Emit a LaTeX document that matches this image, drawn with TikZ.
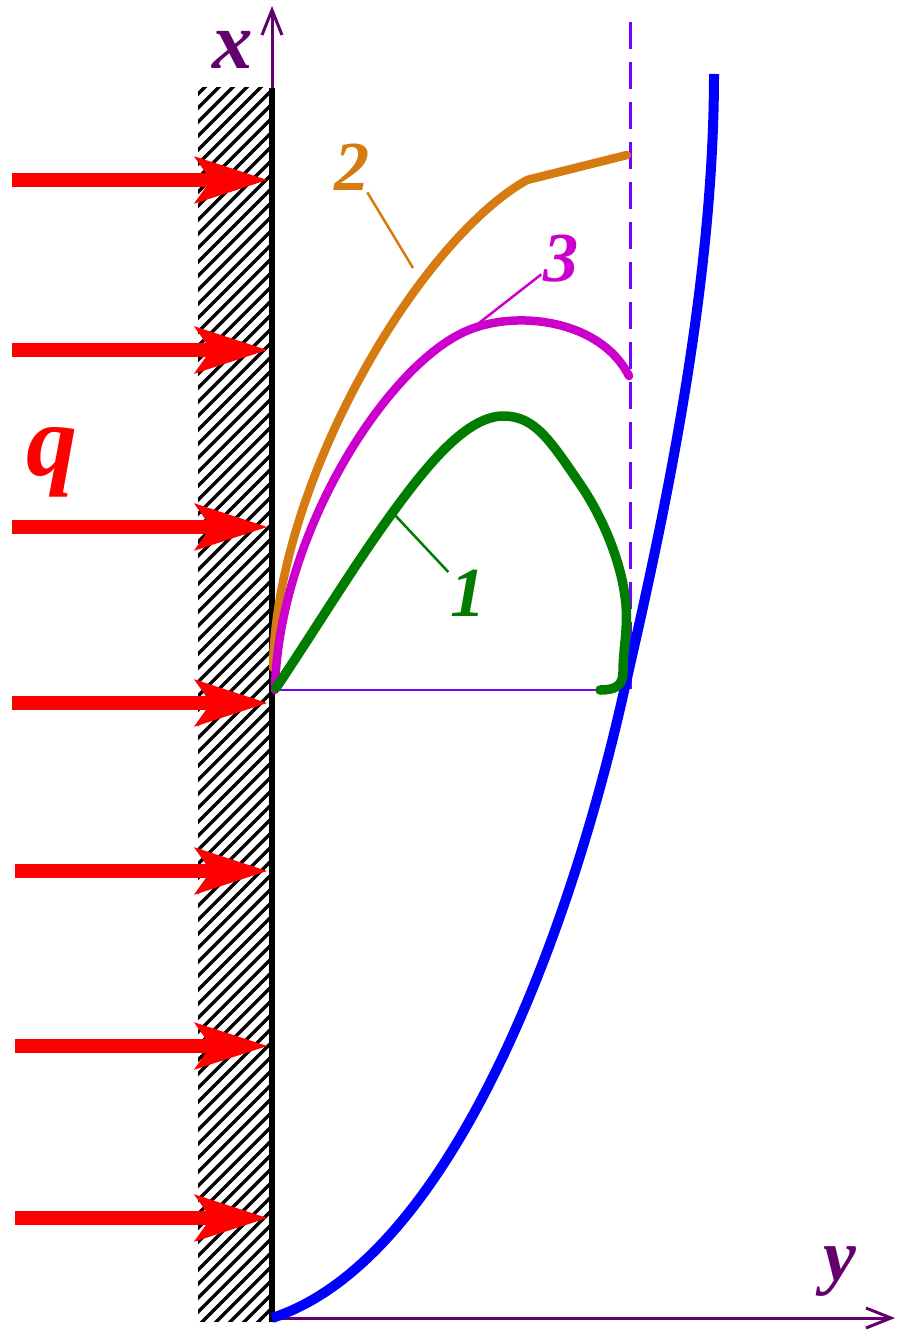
\documentclass[tikz,border=0pt]{standalone}
\usepackage{fontspec}
\setmainfont{Liberation Serif}
\usetikzlibrary{arrows.meta}

\definecolor{qred}{RGB}{255,0,0}
\definecolor{tblue}{RGB}{0,0,255}
\definecolor{curveone}{RGB}{0,125,0}
\definecolor{curvetwo}{RGB}{214,122,18}
\definecolor{curvethree}{RGB}{204,0,204}
\definecolor{axpurple}{RGB}{100,0,110}
\definecolor{guideviolet}{RGB}{120,0,255}

\tikzset{
  qarrow/.style={draw=qred, line width=0.28cm,
    -{Stealth[length=1.44cm,width=0.9cm,inset=0.3cm]}},
  axis/.style={draw=axpurple, line width=0.06cm,
    -{Straight Barb[length=0.5cm,width=0.4cm,line width=0.06cm]}},
  profile/.style={line width=0.17cm, line join=round, line cap=round},
  leader/.style={line width=0.05cm},
  axlab/.style={text=axpurple, inner sep=1pt,
    font=\fontsize{46}{46}\selectfont\bfseries\itshape},
  numlab/.style={inner sep=1pt,
    font=\fontsize{40}{40}\selectfont\bfseries\itshape},
}

\begin{document}
\begin{tikzpicture}[x=0.02cm, y=-0.02cm]

    \useasboundingbox (0,0) rectangle (897,1331);

    % Wall with hatching
    \begin{scope}
        \clip (198,88) rectangle (270,1321);
        \foreach \k in {88,102,...,1430}
            \draw[line width=0.068cm] (190,\k) -- ++(90,-90);
    \end{scope}
    \draw[line width=0.12cm] (272,88) -- (272,1322);

    % Axes
    \coordinate (O) at (272,1318);
    \draw[axis] (272,88) -- (272,6) coordinate (xend);
    \draw[axis] (O) -- (895,1318) coordinate (yend);
    \node[axlab] (xlab) at (233,50) {x};
    \node[axlab, font=\fontsize{42}{42}\selectfont\bfseries\itshape] (ylab) at (840,1272) {y};

    % Heat flux
    \foreach \s/\h in {12/180, 12/350, 12/527, 12/703, 15/871, 15/1046, 15/1218}
        \draw[qarrow] (\s,\h) -- (268,\h);
    \node[text=qred, inner sep=0pt, font=\fontsize{58}{58}\selectfont\bfseries\itshape] (q) at (52,462) {q};

    % Guide lines
    \draw[guideviolet, line width=0.06cm, dash pattern=on 0.54cm off 0.26cm] (630,22) -- (630,690);
    \draw[guideviolet, line width=0.05cm] (273,690) -- (622,690);

    % Temperature curve
    \draw[tblue, line width=0.2cm] (O)
        .. controls (445,1262) and (565,950) .. (622,700)
        .. controls (657,547) and (714,300) .. (714,74);

    % Profile 2
    \draw[curvetwo, profile] (273,668)
        .. controls (276,480) and (420,240) .. (527,180) -- (627,155);

    % Profile 3
    \draw[curvethree, profile] (275,690)
        .. controls (278,540) and (380,375) .. (460,334)
        .. controls (510,308) and (600,318) .. (629,376);

    % Profile 1
    \draw[curveone, profile, line width=0.19cm] (276,688)
        .. controls (320,622) and (353,567) .. (393,512)
        .. controls (433,457) and (470,415) .. (505,416)
        .. controls (535,417) and (550,440) .. (580,484)
        .. controls (600,513) and (622,560) .. (626,605)
        .. controls (628,630) and (623,650) .. (623,672)
        .. controls (623,686) and (615,690) .. (600,690);

    % Labels
    \node[numlab, text=curvetwo] (lab2) at (352,167) {2};
    \node[numlab, text=curvethree] (lab3) at (561,259) {3};
    \node[numlab, text=curveone] (lab1) at (468,593) {1};
    \coordinate (on2) at (413,268);
    \coordinate (on3) at (470,330);
    \coordinate (on1) at (393,513);
    \draw[leader, curvetwo] (lab2) -- (on2);
    \draw[leader, curvethree] (lab3) -- (on3);
    \draw[leader, curveone] (lab1) -- (on1);

\end{tikzpicture}
\end{document}
